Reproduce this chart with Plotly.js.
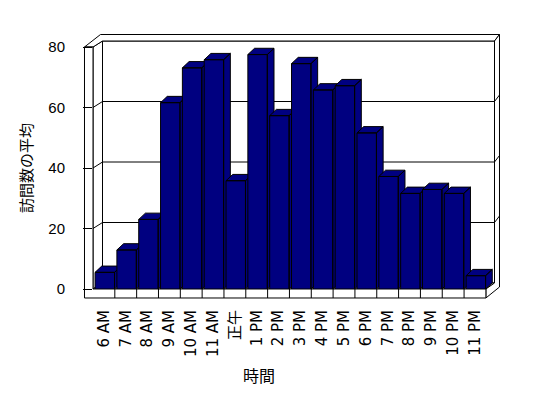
<!DOCTYPE html>
<html>
<head>
<meta charset="utf-8">
<script src="https://cdn.plot.ly/plotly-3.0.1.min.js"></script>
<style>html,body{margin:0;padding:0;background:#fff;}#chart{width:548px;height:398px;}</style>
</head>
<body>
<div id="chart"></div>
<script>
// ---- data ----
const categories = ['6 AM','7 AM','8 AM','9 AM','10 AM','11 AM','正午','1 PM','2 PM','3 PM','4 PM','5 PM','6 PM','7 PM','8 PM','9 PM','10 PM','11 PM'];
const visits = [5.5, 12.9, 23.0, 61.6, 73.1, 75.8, 35.8, 77.5, 57.3, 74.5, 65.8, 67.2, 51.6, 37.2, 31.6, 32.9, 31.6, 4.4];
const yTicks = [0, 20, 40, 60, 80];
const xTitle = '時間';
const yTitle = '訪問数の平均';

// ---- geometry (pixels) ----
const W = 548, H = 398;
const L = 93, R = 49, T = 47, B = 109;
const plotW = W - L - R, plotH = H - T - B;
const n = categories.length;
const xMin = -0.5, xMax = 18.1;
const pitch = plotW / (xMax - xMin);
const yMax = 80;
const pxPerUnit = plotH / yMax;
const baseY = H - B;            // value 0 on front plane
const FL = 84.5, IL = L, BL = 102.5;
const FR = L + n * pitch, BR = 494.5, OR = 499.5;
const topF = T, topB = 41, topO = 34.5;
const baseB = baseY - 6, floorBot = 298;
const dyWall = 6;

function px(X){ return (X - L) / plotW; }
function py(Y){ return (baseY - Y) / plotH; }
function path(pts){ return 'M' + pts.map(p => px(p[0]).toFixed(5) + ',' + py(p[1]).toFixed(5)).join('L') + 'Z'; }
function line(x0,y0,x1,y1){ return {type:'line', xref:'paper', yref:'paper', x0:px(x0), y0:py(y0), x1:px(x1), y1:py(y1), line:{color:'#000', width:1}, layer:'below'}; }
function poly(pts){ return {type:'path', xref:'paper', yref:'paper', path:path(pts), fillcolor:'#fff', line:{color:'#000', width:1}, layer:'below'}; }

const shapes = [];
shapes.push(poly([[BL,topB],[BR,topB],[BR,baseB],[BL,baseB]]));               // back wall
shapes.push(poly([[IL,topF],[BL,topB],[BL,baseB],[IL,baseY]]));               // left wall inner face
shapes.push(poly([[IL,baseY],[BL,baseB],[BR,baseB],[FR,baseY]]));             // floor top
shapes.push(poly([[FL,topF],[BL-2,topO],[OR,topO],[BR,topB],[BL,topB],[IL,topF]])); // top slab
shapes.push(poly([[BR,topB],[OR,topO],[OR,287],[FR,floorBot],[FR,baseY],[BR,baseB]])); // right side
shapes.push(poly([[FL,topF],[IL,topF],[IL,baseY],[FR,baseY],[FR,floorBot],[FL,floorBot]])); // front L
yTicks.forEach(v => {
  if (v === 0 || v === yMax) return;
  const y = baseY - v * pxPerUnit;
  shapes.push(line(IL, y, BL, y - dyWall));
  shapes.push(line(BL, y - dyWall, BR, y - dyWall));
  shapes.push(line(BR, y - dyWall, OR, y - dyWall - 6.5));
});
for (let k = 1; k < n; k++) {
  const x = IL + k * pitch;
  shapes.push(line(x, baseY, x, floorBot));
}

// ---- 3D bar faces ----
const half = 0.445, off = 0.04, D = 0.307, E = 2.08;
const traces = visits.map((v, i) => {
  const x0 = i - half + off, x1 = i + half + off;
  const xs = [x0, x1, x1, x0, x0, null,
              x0, x1, x1 + D, x0 + D, x0, null,
              x1, x1 + D, x1 + D, x1, x1];
  const ys = [0, 0, v, v, 0, null,
              v, v, v + E, v + E, v, null,
              0, E, v + E, v, 0];
  return {type:'scatter', mode:'lines', x: xs, y: ys, fill:'toself', fillcolor:'#000080',
          line:{color:'#000', width:1}, hoverinfo:'skip', showlegend:false, name: categories[i]};
});

const font = "'Liberation Sans', Arial, 'Noto Sans CJK JP', sans-serif";
const xfont = "'DejaVu Sans', 'Noto Sans CJK JP', sans-serif";
const layout = {
  width: W, height: H,
  margin: {l: L, r: R, t: T, b: B, pad: 0},
  paper_bgcolor: '#fff', plot_bgcolor: 'rgba(0,0,0,0)',
  showlegend: false,
  font: {family: font, size: 15, color: '#000'},
  xaxis: {range: [xMin, xMax], tickmode: 'array', tickvals: categories.map((c, i) => i), ticktext: categories,
          tickangle: -90, ticks: '', showgrid: false, zeroline: false, showline: false,
          ticklabelstandoff: 17, tickfont: {family: xfont, size: 15, color: '#000'}, fixedrange: true},
  yaxis: {range: [0, yMax], tickmode: 'array', tickvals: yTicks, ticks: 'outside', ticklen: 9,
          tickcolor: '#000', tickwidth: 1, showgrid: false, zeroline: false, showline: false,
          ticklabelstandoff: 15, tickfont: {family: font, size: 15, color: '#000'},
          title: {text: yTitle, font: {family: "'Noto Sans CJK JP', sans-serif", size: 15, color: '#000'}, standoff: 12},
          fixedrange: true},
  shapes: shapes,
  annotations: [{text: xTitle, xref: 'paper', yref: 'paper', x: px(259), y: py(375.5),
                 xanchor: 'center', yanchor: 'middle', showarrow: false,
                 font: {family: "'Noto Sans CJK JP', sans-serif", size: 16, color: '#000'}}]
};
Plotly.newPlot('chart', traces, layout, {displayModeBar: false, staticPlot: true});
</script>
</body>
</html>
